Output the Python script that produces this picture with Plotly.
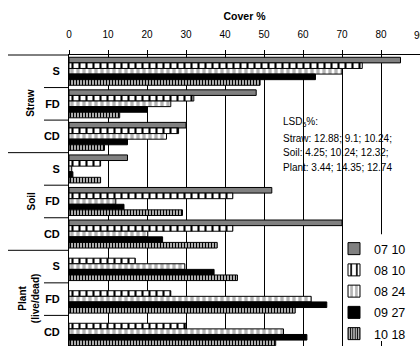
import plotly.graph_objects as go

# ---- data ----
outer_groups = ["Straw", "Soil", "Plant"]
inner_labels = ["S", "FD", "CD"]
categories = [f"{o} {i}" for o in outer_groups for i in inner_labels]
outer_text = ["Straw", "Soil", "Plant<br>(live/dead)"]

series_names = ["07 10", "08 10", "08 24", "09 27", "10 18"]
v_0710 = [85.0, 48.0, 30.0, 15.0, 52.0, 70.0, None, None, None]
v_0810 = [75.2, 32.0, 28.1, 8.1, 42.0, 42.0, 17.0, 26.1, 30.0]
v_0824 = [70.0, 26.1, 25.0, 0.7, 12.0, 20.2, 29.7, 62.1, 55.0]
v_0927 = [63.2, 20.0, 15.0, 1.0, 14.1, 24.0, 37.2, 66.1, 61.0]
v_1018 = [49.0, 13.0, 9.1, 8.1, 29.1, 38.0, 43.2, 58.0, 53.0]
series_values = [v_0710, v_0810, v_0824, v_0927, v_1018]

x_ticks = [0, 10, 20, 30, 40, 50, 60, 70, 80, 90]

lsd_lines = ["LSD<sub>5</sub>%:", "Straw: 12.88; 9.1; 10.24;",
             "Soil: 4.25; 10.24; 12.32;", "Plant: 3.44; 14.35; 12.74"]

FONT = "Liberation Sans, Arial, sans-serif"

styles = [
    dict(color="#808080", pattern=None),
    dict(color="white", pattern=dict(shape="|", fgcolor="black", bgcolor="white", size=7, solidity=0.3)),
    dict(color="white", pattern=dict(shape="|", fgcolor="#b4b4b4", bgcolor="white", size=6, solidity=0.55)),
    dict(color="black", pattern=None),
    dict(color="white", pattern=dict(shape="|", fgcolor="black", bgcolor="white", size=3, solidity=0.55)),
]

fig = go.Figure()
for name, vals, st in zip(series_names, series_values, styles):
    marker = dict(color=st["color"], line=dict(color="black", width=1))
    if st["pattern"]:
        marker["pattern"] = dict(fillmode="replace", **st["pattern"])
    fig.add_trace(go.Bar(x=vals, y=categories, orientation="h", name=name,
                         legendgroup=name, marker=marker))

W, H = 420, 349
ML, MT = 69, 55
PW, PH = W - ML, H - MT
y_lo, y_hi = -0.5, 8.44
span = y_hi - y_lo

def ypaper(pos):
    return (y_hi - pos) / span

def xpaper(px):
    return (px - ML) / PW

shapes = []
n = len(categories)
for k in range(0, n):
    outer = (k % 3 == 0)
    x0 = xpaper(8) if outer else xpaper(44)
    shapes.append(dict(type="line", xref="paper", yref="paper", x0=x0, x1=0,
                       y0=ypaper(k - 0.5), y1=ypaper(k - 0.5),
                       line=dict(color="black", width=1)))
# white box hiding gridline behind legend
shapes.append(dict(type="rect", xref="paper", yref="paper", layer="above",
                   x0=xpaper(350), x1=xpaper(412), y0=(H - 344) / PH, y1=(H - 236) / PH,
                   fillcolor="white", line=dict(width=0)))

annotations = []
for gi, txt in enumerate(outer_text):
    center = gi * 3 + 1
    annotations.append(dict(text=f"<b>{txt}</b>", xref="paper", yref="paper",
                            x=xpaper(31 if gi < 2 else 29), y=ypaper(center),
                            textangle=-90, showarrow=False,
                            font=dict(family=FONT, size=10, color="black"),
                            xanchor="center", yanchor="middle"))
lsd_y = [123, 139, 154, 169]
for t, yy in zip(lsd_lines, lsd_y):
    annotations.append(dict(text=t, xref="paper", yref="paper", x=xpaper(281),
                            y=(H - yy) / PH, showarrow=False, xanchor="left",
                            yanchor="middle", font=dict(family=FONT, size=10, color="black")))
# last tick label at the right edge (partly cut off, as in the reference)
annotations.append(dict(text=str(x_ticks[-1]), xref="x", yref="paper", x=x_ticks[-1],
                        y=(H - 35) / PH, showarrow=False, xanchor="center", yanchor="middle",
                        font=dict(family=FONT, size=10, color="black")))

fig.update_layout(
    width=W, height=H,
    margin=dict(l=ML, r=0, t=MT, b=0, pad=0),
    paper_bgcolor="white", plot_bgcolor="white",
    barmode="group", bargap=0.14, bargroupgap=0,
    font=dict(family=FONT, color="black"),
    showlegend=True,
    legend=dict(x=xpaper(334), y=(H - 236) / PH, xanchor="left", yanchor="top",
                bgcolor="rgba(0,0,0,0)", font=dict(family=FONT, size=12.5, color="black"),
                tracegroupgap=2, traceorder="grouped"),
    shapes=shapes, annotations=annotations,
    xaxis=dict(side="top", range=[0, 90], tickmode="array", tickvals=x_ticks,
               showgrid=True, gridcolor="black", gridwidth=1,
               zeroline=False, showline=True, linecolor="black", linewidth=1,
               ticks="outside", ticklen=4, tickcolor="black",
               tickfont=dict(family=FONT, size=10, color="black"),
               ticklabelstandoff=8,
               title=dict(text="<b>Cover %</b>", font=dict(family=FONT, size=10.5, color="black"),
                          standoff=6),
               fixedrange=True),
    yaxis=dict(type="category", categoryorder="array", categoryarray=categories,
               range=[y_hi, y_lo], showgrid=False, zeroline=False,
               showline=True, linecolor="black", linewidth=1, ticks="",
               tickmode="array", tickvals=categories,
               ticktext=[c.split(" ")[1] for c in categories],
               tickfont=dict(family=FONT, size=11, color="black", weight="bold"),
               ticklabelstandoff=6, fixedrange=True),
)

fig.write_html("out.html")
